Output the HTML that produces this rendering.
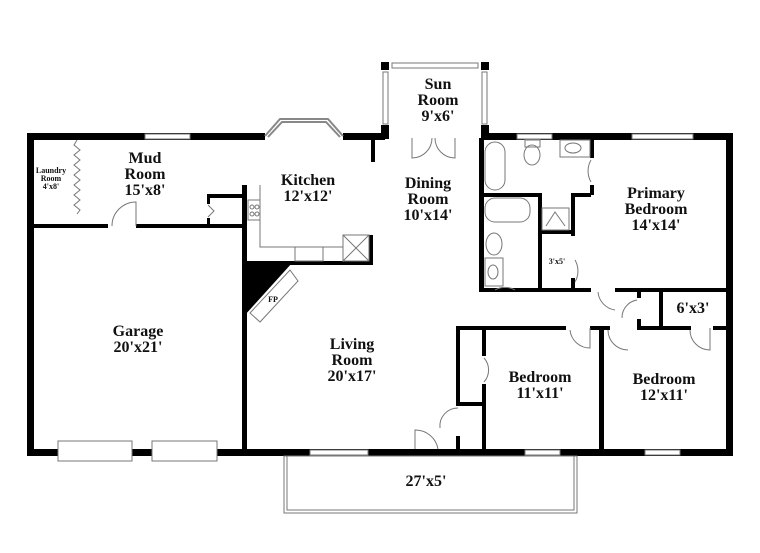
<!DOCTYPE html>
<html><head><style>
html,body{margin:0;padding:0;background:#fff}
svg{display:block}
text{font-family:"Liberation Serif",serif;font-weight:bold;fill:#111;text-anchor:middle}
</style></head><body>
<svg width="760" height="553" viewBox="0 0 760 553" xmlns="http://www.w3.org/2000/svg">
<g fill="#000">
<rect x="27" y="133" width="238" height="7"/>
<rect x="343" y="133" width="42" height="7"/>
<rect x="482" y="133" width="251" height="7"/>
<rect x="27" y="133" width="7" height="323"/>
<rect x="726" y="133" width="7" height="323"/>
<rect x="27" y="449" width="706" height="7"/>
<rect x="381" y="62" width="8" height="8"/>
<rect x="481" y="62" width="8" height="8"/>
<rect x="381" y="125" width="8" height="14"/>
<rect x="481" y="125" width="8" height="14"/>
<rect x="30" y="224" width="78" height="4"/>
<rect x="136" y="224" width="110" height="4"/>
<rect x="242" y="185" width="5" height="267"/>
<rect x="207" y="194" width="38" height="4"/>
<rect x="207" y="194" width="3" height="10"/>
<rect x="207" y="218" width="3" height="8"/>
<rect x="245" y="261" width="128" height="4"/>
<rect x="369" y="235" width="4" height="30"/>
<rect x="371" y="138" width="4" height="24"/>
<polygon points="245,263 292,263 245,315"/>
<rect x="479" y="138" width="5" height="154"/>
<rect x="479" y="288" width="112" height="4"/>
<rect x="484" y="193" width="57" height="4"/>
<rect x="538" y="193" width="4" height="97"/>
<rect x="538" y="230" width="35" height="4"/>
<rect x="571" y="193" width="4" height="43"/>
<rect x="571" y="193" width="20" height="4"/>
<rect x="590" y="138" width="4" height="20"/>
<rect x="590" y="185" width="4" height="10"/>
<rect x="571" y="278" width="4" height="12"/>
<rect x="615" y="288" width="114" height="4"/>
<rect x="659" y="290" width="4" height="40"/>
<rect x="637" y="290" width="4" height="8"/>
<rect x="637" y="319" width="4" height="10"/>
<rect x="456" y="326" width="110" height="4"/>
<rect x="456" y="326" width="4" height="126"/>
<rect x="482" y="326" width="4" height="126"/>
<rect x="456" y="402" width="28" height="4"/>
<rect x="599" y="326" width="5" height="126"/>
<rect x="590" y="326" width="20" height="4"/>
<rect x="637" y="326" width="54" height="4"/>
<rect x="713" y="326" width="16" height="4"/>
</g>
<g fill="#fff">
<rect x="482" y="356" width="4" height="28"/>
<rect x="456" y="406" width="4" height="30"/>
</g>
<g fill="none" stroke="#777" stroke-width="1">
<rect x="145" y="134" width="45" height="5" fill="#fff"/>
<rect x="517" y="134" width="35" height="5" fill="#fff"/>
<rect x="632" y="134" width="61" height="5" fill="#fff"/>
<rect x="392" y="63" width="86" height="5" fill="#fff"/>
<rect x="383" y="72" width="5" height="52" fill="#fff"/>
<rect x="482" y="72" width="5" height="52" fill="#fff"/>
<rect x="310" y="450" width="58" height="5" fill="#fff"/>
<rect x="525" y="450" width="35" height="5" fill="#fff"/>
<rect x="645" y="450" width="35" height="5" fill="#fff"/>
<path d="M265,136 L280,119 L328,119 L343,136 M268,137 L282,122 L326,122 L340,137" stroke="#888" stroke-width="2"/>
<rect x="58" y="441" width="74" height="20" fill="#fff"/>
<rect x="152" y="441" width="65" height="20" fill="#fff"/>
<rect x="284" y="456" width="293" height="57"/>
<path d="M287,456 L287,510 L574,510 L574,456"/>
<path d="M77,140 l-3,5 l6,5 l-6,5 l6,5 l-6,5 l6,5 l-6,5 l6,5 l-6,5 l6,5 l-6,5 l6,5 l-6,5 l6,5 l-3,4"/>
<path d="M112,226 A24,24 0 0 1 136,202 L136,226"/>
<path d="M208,205 l6,6 l-6,6"/>
<path d="M412,138 L412,158 A20,20 0 0 0 432,138 M455,138 L455,158 A20,20 0 0 1 435,138"/>
<path d="M591,160 A22,22 0 0 0 591,182"/>
<path d="M575,260 A22,22 0 0 1 575,282"/>
<path d="M515,290 A20,20 0 0 0 495,290"/>
<path d="M598,292 A20,20 0 0 0 615,310"/>
<path d="M637,300 A18,18 0 0 0 622,318"/>
<path d="M570,330 A20,20 0 0 0 590,348 L590,328"/>
<path d="M608,330 A20,20 0 0 0 628,350"/>
<path d="M690,330 A20,20 0 0 0 710,350 L710,328"/>
<path d="M484,358 A18,18 0 0 1 484,382"/>
<path d="M458,408 A18,18 0 0 0 440,428"/>
<path d="M415,449 L415,430 A23,23 0 0 1 438,449"/>
<rect x="248" y="200" width="12" height="20"/>
<circle cx="252" cy="207" r="2"/><circle cx="257" cy="207" r="2"/>
<circle cx="252" cy="214" r="2"/><circle cx="257" cy="214" r="2"/>
<path d="M260,185 L260,247 L343,247 L343,262"/>
<rect x="295" y="247" width="28" height="14"/>
<rect x="343" y="235" width="26" height="26"/>
<path d="M343,235 L369,261 M369,235 L343,261"/>
<polygon points="250,313 290,270 298,281 260,322"/>
<rect x="485" y="142" width="20" height="48" rx="10"/>
<ellipse cx="532" cy="155" rx="8" ry="10"/>
<rect x="525" y="140" width="15" height="7"/>
<rect x="560" y="140" width="30" height="17"/>
<ellipse cx="573" cy="148" rx="8" ry="5"/>
<rect x="485" y="198" width="45" height="24" rx="10"/>
<rect x="542" y="208" width="27" height="22"/>
<path d="M546,226 L555,212 L565,226"/>
<ellipse cx="494" cy="244" rx="8" ry="11"/>
<rect x="485" y="258" width="18" height="28"/>
<ellipse cx="493" cy="272" rx="5" ry="7"/>
</g>
<g font-size="16">
<text x="145" y="163">Mud</text><text x="145" y="179">Room</text><text x="145" y="195">15'x8'</text>
<text x="308" y="185">Kitchen</text><text x="308" y="201">12'x12'</text>
<text x="438" y="89">Sun</text><text x="438" y="105">Room</text><text x="438" y="121">9'x6'</text>
<text x="428" y="188">Dining</text><text x="428" y="204">Room</text><text x="428" y="220">10'x14'</text>
<text x="656" y="198">Primary</text><text x="656" y="214">Bedroom</text><text x="656" y="230">14'x14'</text>
<text x="138" y="336">Garage</text><text x="138" y="352">20'x21'</text>
<text x="352" y="349">Living</text><text x="352" y="365">Room</text><text x="352" y="381">20'x17'</text>
<text x="540" y="382">Bedroom</text><text x="540" y="398">11'x11'</text>
<text x="664" y="384">Bedroom</text><text x="664" y="400">12'x11'</text>
<text x="693" y="313">6'x3'</text>
<text x="426" y="486">27'x5'</text>
</g>
<g font-size="8">
<text x="51" y="173">Laundry</text><text x="51" y="181">Room</text><text x="51" y="189">4'x8'</text>
<text x="557" y="264">3'x5'</text>
<text x="273" y="302">FP</text>
</g>
</svg>
</body></html>
